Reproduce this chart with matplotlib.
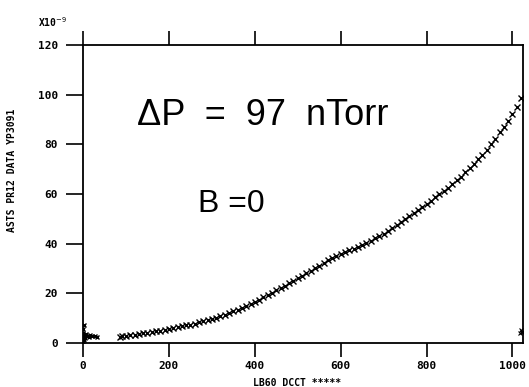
import matplotlib.pyplot as plt
plt.switch_backend('agg')

# pressure rise vs beam current
x_start = [0, 0, 0, 0, 1, 2, 2, 3, 4, 6, 9, 13, 17, 22, 27, 32]
y_start = [0.5, 1.5, 2.5, 4.0, 5.5, 7.0, 1.0, 3.0, 2.0, 3.5, 2.8, 2.5, 3.0, 2.6, 2.8, 2.4]

x_curve = [86, 90, 100, 110, 120, 130, 140, 150, 160, 170, 180, 190, 200, 210, 220,
           230, 240, 250, 260, 270, 280, 290, 300, 310, 320, 330, 340, 350, 360, 370,
           380, 390, 400, 410, 420, 430, 440, 450, 460, 470, 480, 490, 500, 510, 520,
           530, 540, 550, 560, 570, 580, 590, 600, 610, 620, 630, 640, 650, 660, 670,
           680, 690, 700, 710, 720, 730, 740, 750, 760, 770, 780, 790, 800, 810, 820,
           830, 840, 850, 860, 870, 880, 890, 900, 910, 920, 930, 940, 950, 960, 970,
           980, 990, 1000, 1010, 1020]
y_curve = [2.4, 2.6, 2.8, 3.0, 3.3, 3.5, 3.8, 4.0, 4.3, 4.6, 4.9, 5.3, 5.6, 6.0, 6.3,
           6.6, 7.0, 7.4, 7.8, 8.3, 8.7, 9.1, 9.6, 10.1, 10.7, 11.3, 12.0, 12.7, 13.4, 14.1,
           14.9, 15.7, 16.5, 17.4, 18.3, 19.3, 20.2, 21.2, 22.2, 23.1, 24.1, 25.0, 26.0, 27.0, 28.0,
           29.0, 30.0, 31.1, 32.1, 33.2, 34.2, 35.0, 35.8, 36.6, 37.3, 38.0, 38.8, 39.6, 40.4, 41.2,
           42.1, 43.0, 44.0, 45.1, 46.2, 47.3, 48.5, 49.7, 51.0, 52.2, 53.5, 54.8, 56.0, 57.3, 58.6,
           60.0, 61.2, 62.5, 63.9, 65.4, 67.0, 68.7, 70.3, 72.2, 74.0, 75.8, 77.8, 80.0, 82.3, 84.8,
           87.0, 89.5, 92.0, 95.0, 98.5]

x_end = [1018, 1020, 1022]
y_end = [4.0, 5.0, 4.5]

x_ticks = [0, 200, 400, 600, 800, 1000]
y_ticks = [0, 20, 40, 60, 80, 100, 120]

tick_font = dict(family='DejaVu Sans Mono', size=8, weight='bold')

fig = plt.figure(figsize=(5.29, 3.87), dpi=100)
ax = fig.add_axes([0.157, 0.114, 0.832, 0.77])

ax.plot(x_start, y_start, 'x', color='black', ms=3.5, mew=1.0)
ax.plot(x_curve, y_curve, 'x', color='black', ms=4, mew=1.0)
ax.plot(x_end, y_end, 'x', color='black', ms=3, mew=0.8)

ax.set_xlim(0, 1025)
ax.set_ylim(0, 120)
ax.set_xticks(x_ticks)
ax.set_yticks(y_ticks)
ax.set_xticklabels([str(v) for v in x_ticks], fontdict=tick_font)
ax.set_yticklabels([str(v) for v in y_ticks], fontdict=tick_font)
ax.tick_params(axis='x', direction='out', length=10, width=1.2, pad=3,
               top=True, labeltop=False)
ax.tick_params(axis='y', direction='out', length=12, width=1.2, pad=6)
for s in ax.spines.values():
    s.set_linewidth(1.3)

ax.text(0.123, 0.7315, u'\u0394P  =  97  nTorr', transform=ax.transAxes,
        family='Liberation Sans', fontsize=26, va='baseline')
ax.text(0.261, 0.44, 'B =0', transform=ax.transAxes,
        family='Liberation Sans', fontsize=23, va='baseline')

fig.text(38 / 529, 1 - 22 / 387, 'X10$^{-9}$', family='DejaVu Sans Mono',
         fontsize=7, weight='bold', va='center')
fig.text(12 / 529, 1 - 170 / 387, 'ASTS PR12 DATA YP3091', rotation=90,
         family='DejaVu Sans Mono', fontsize=7, weight='bold',
         ha='center', va='center')
fig.text(297 / 529, 1 - 383 / 387, 'LB60 DCCT *****', family='DejaVu Sans Mono',
         fontsize=7, weight='bold', ha='center', va='center')

fig.savefig('out.png', dpi=100)
